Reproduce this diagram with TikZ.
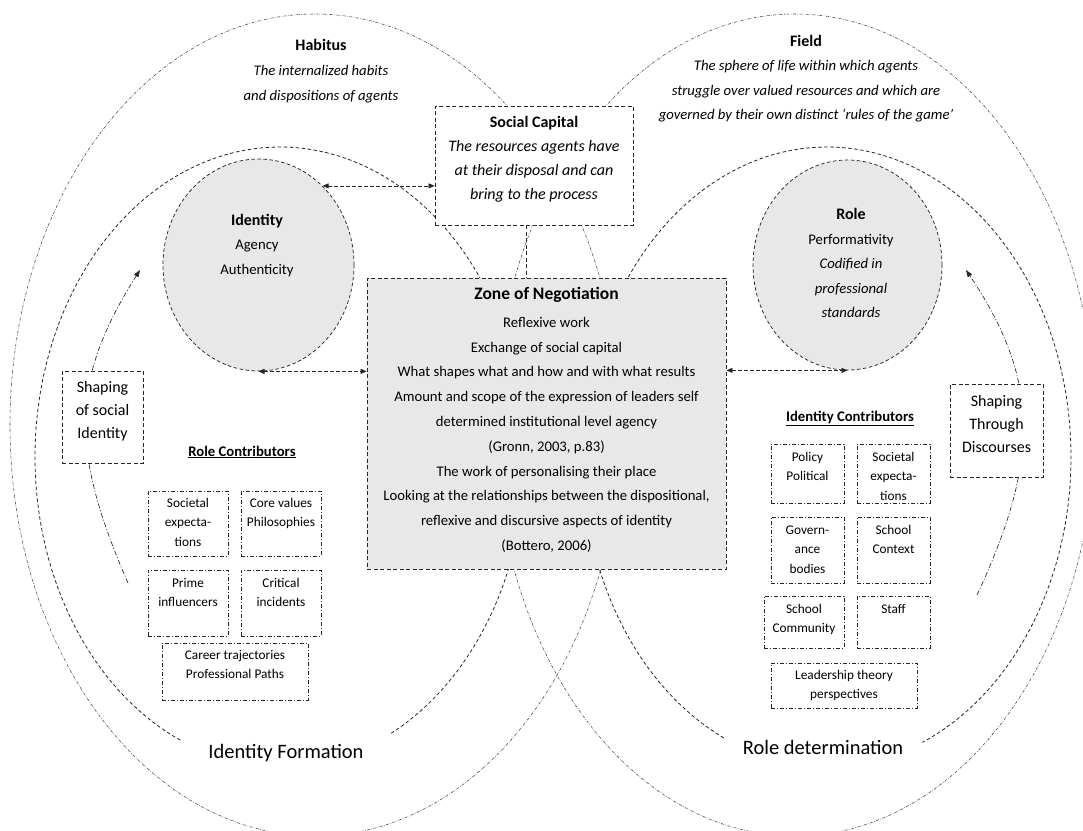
\documentclass[tikz,border=0pt]{standalone}
\usepackage{fontspec}
\setmainfont{Carlito}
\usetikzlibrary{arrows.meta,shapes.geometric}
\definecolor{boxgray}{HTML}{E8E8E8}
\newcommand{\bxt}[4]{\parbox[c][#2][t]{#1}{\centering\vspace*{#3}\rule{0pt}{0.75em}\ignorespaces#4}}
\tikzset{
  outerell/.style={draw=black!72, line width=0.55pt, dash pattern=on 3pt off 1.5pt on 0.6pt off 1.5pt},
  innerell/.style={draw=black!85, line width=0.8pt, dash pattern=on 3.5pt off 2.5pt},
  circ/.style={ellipse, draw=black!85, line width=0.75pt, dash pattern=on 3.5pt off 2.5pt, fill=boxgray, inner sep=0pt},
  dbox/.style={rectangle, draw=black!85, line width=0.8pt, dash pattern=on 4pt off 2.5pt, inner sep=0pt},
  cbox/.style={rectangle, draw=black!85, line width=0.6pt, dash pattern=on 4pt off 2pt on 1pt off 2pt, fill=white, inner sep=0pt, font=\fontsize{13.3}{19.5}\selectfont},
  link/.style={draw=black!85, line width=0.75pt, dash pattern=on 3.5pt off 2.5pt, {Triangle[length=6pt,width=5pt]}-{Triangle[length=6pt,width=5pt]}},
  shapearrow/.style={draw=black!85, line width=0.65pt, dash pattern=on 5pt off 2pt on 1pt off 2pt, -{Triangle[length=7pt,width=5pt]}},
  txt/.style={align=center, inner sep=0pt}
}
\begin{document}
\begin{tikzpicture}[x=1pt,y=-1pt]
\fill[white] (0,0) rectangle (1083,830);
\useasboundingbox (0,0) rectangle (1083,830);
% ellipses
\begin{scope}
\clip (0,0) rectangle (1083,830);
\draw[outerell] (315,425) ellipse [x radius=305pt, y radius=411pt];
\draw[outerell] (795,425) ellipse [x radius=300pt, y radius=411pt];
\draw[innerell] plot[domain=114:423, samples=160, smooth] ({280+245*cos(\x)},{457+310*sin(\x)});
\draw[innerell] plot[domain=115:427, samples=160, smooth] ({827+244*cos(\x)},{457+310*sin(\x)});
\end{scope}
% shaping arrows
\coordinate (lsb) at (128,583);
\coordinate (lst) at (140,270);
\coordinate (rsb) at (977,595);
\coordinate (rst) at (966,270);
\draw[shapearrow] (lsb) .. controls (70,450) and (70,380) .. (lst);
\draw[shapearrow] (rsb) .. controls (1040,460) and (1040,380) .. (rst);
% header texts
\node[txt, font=\fontsize{14.7}{25}\selectfont] (habitus) at (321,71)
  {{\fontsize{16}{25}\selectfont\bfseries Habitus}\\\textit{The internalized habits}\\\textit{and dispositions of agents}};
\node[txt, font=\fontsize{14.7}{24.3}\selectfont] (field) at (806,78.5)
  {{\fontsize{16}{24.3}\selectfont\bfseries Field}\\\textit{The sphere of life within which agents}\\\textit{struggle over valued resources and which are}\\\textit{governed by their own distinct ‘rules of the game’}};
% social capital
\node[dbox, fill=white, font=\fontsize{16}{24}\selectfont] (socap) at (534,165.5)
  {\bxt{198pt}{119pt}{9pt}{{\bfseries Social Capital}\\\textit{The resources agents have}\\\textit{at their disposal and can}\\\textit{bring to the process}}};
% circles
\node[circ, minimum width=191pt, minimum height=212pt] (identity) at (258.5,265) {};
\node[circ, minimum width=189pt, minimum height=210pt] (role) at (847.5,265) {};
\node[txt, font=\fontsize{14.7}{24.5}\selectfont] (idtext) at (257,245.5)
  {{\fontsize{16}{24.5}\selectfont\bfseries Identity}\\Agency\\Authenticity};
\node[txt, font=\fontsize{14.7}{24.5}\selectfont] (roletext) at (851,263)
  {{\fontsize{16}{24.5}\selectfont\bfseries Role}\\Performativity\\\textit{Codified in}\\\textit{professional}\\\textit{standards}};
% zone of negotiation
\node[dbox, fill=boxgray, font=\fontsize{14.7}{24.8}\selectfont] (zone) at (546.5,423.5)
  {\bxt{359pt}{291pt}{9pt}{{\fontsize{17.5}{24.8}\selectfont\bfseries Zone of Negotiation}\\[3.2pt]
   Reflexive work\\Exchange of social capital\\What shapes what and how and with what results\\
   Amount and scope of the expression of leaders self\\determined institutional level agency\\
   (Gronn, 2003, p.83)\\The work of personalising their place\\
   Looking at the relationships between the dispositional,\\reflexive and discursive aspects of identity\\
   (Bottero, 2006)}};
% shaping boxes
\node[dbox, fill=white, font=\fontsize{16}{23}\selectfont] (shapeid) at (102.5,417)
  {\bxt{81pt}{92pt}{9pt}{Shaping\\of social\\Identity}};
\node[dbox, fill=white, font=\fontsize{16}{23}\selectfont] (shapedisc) at (996.5,430.5)
  {\bxt{93pt}{93pt}{10pt}{Shaping\\Through\\Discourses}};
% contributors headings
\node[txt, font=\fontsize{14.7}{18}\selectfont] (rolecontrib) at (242,452) {\underline{\textbf{Role Contributors}}};
\node[txt, font=\fontsize{14.7}{18}\selectfont] (idcontrib) at (850,418) {\underline{\textbf{Identity Contributors}}};
% role contributors boxes
\node[cbox] (rc1) at (188,523.5) {\bxt{80pt}{65pt}{6.3pt}{Societal\\expecta-\\tions}};
\node[cbox] (rc2) at (281,523.5) {\bxt{80pt}{65pt}{6.3pt}{Core values\\Philosophies}};
\node[cbox] (rc3) at (188,603) {\bxt{80pt}{66pt}{7.3pt}{Prime\\influencers}};
\node[cbox] (rc4) at (281,603) {\bxt{80pt}{66pt}{7.3pt}{Critical\\incidents}};
\node[cbox] (rc5) at (235,671.5) {\bxt{146pt}{57pt}{6.3pt}{Career trajectories\\Professional Paths}};
% identity contributors boxes
\node[cbox] (ic1) at (807.5,473.5) {\bxt{73pt}{59pt}{7.3pt}{Policy\\Political}};
\node[cbox] (ic2) at (893.5,473.5) {\bxt{73pt}{59pt}{7.3pt}{Societal\\expecta-\\tions}};
\node[cbox] (ic3) at (807.5,550) {\bxt{73pt}{66pt}{7.3pt}{Govern-\\ance\\bodies}};
\node[cbox] (ic4) at (893.5,550) {\bxt{73pt}{66pt}{7.3pt}{School\\Context}};
\node[cbox] (ic5) at (804,622) {\bxt{80pt}{52pt}{7.3pt}{School\\Community}};
\node[cbox] (ic6) at (893.5,622) {\bxt{73pt}{52pt}{7.3pt}{Staff}};
\node[cbox] (ic7) at (844,685.5) {\bxt{146pt}{45pt}{6.3pt}{Leadership theory\\perspectives}};
% bottom labels
\node[txt, font=\fontsize{20.5}{24}\selectfont] (idform) at (286,753) {Identity Formation};
\node[txt, font=\fontsize{20.5}{24}\selectfont] (roledet) at (823,747) {Role determination};
% connectors
\draw[link] (identity.51) -- (identity.51 -| socap.west);
\draw[link] (identity.south) -- (identity.south -| zone.west);
\draw[link] (role.south -| zone.east) -- (role.south);
\draw[draw=black!85, line width=0.9pt, dash pattern=on 4pt off 2.5pt] ([xshift=-8pt]socap.south) -- ([xshift=-8pt]socap.south |- zone.north);
\end{tikzpicture}
\end{document}
